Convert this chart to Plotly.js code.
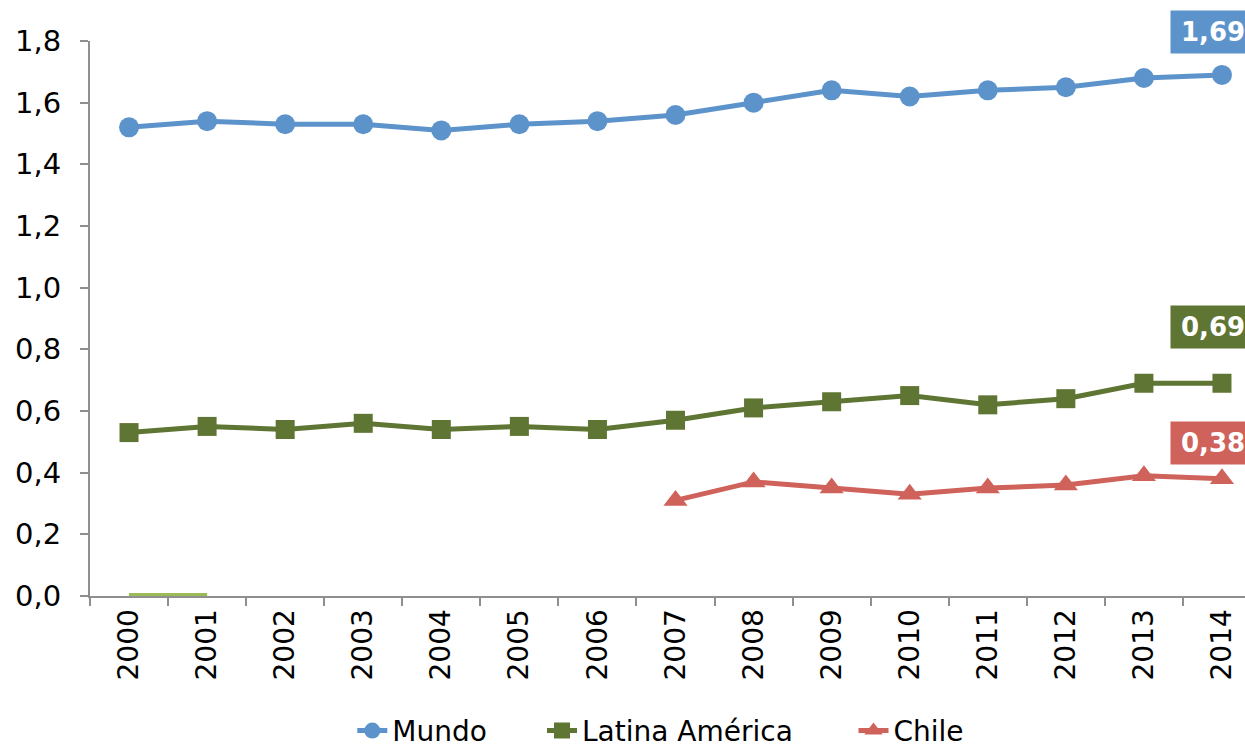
<!DOCTYPE html>
<html>
<head>
<meta charset="utf-8">
<script src="https://cdn.plot.ly/plotly-3.0.1.min.js"></script>
<style>
html,body{margin:0;padding:0;overflow:hidden;background:#fff;}
#chart{width:1271px;height:749px;}
</style>
</head>
<body>
<div id="chart"></div>
<script>
const years = ['2000','2001','2002','2003','2004','2005','2006','2007','2008','2009','2010','2011','2012','2013','2014'];
const mundo = [1.52,1.54,1.53,1.53,1.51,1.53,1.54,1.56,1.60,1.64,1.62,1.64,1.65,1.68,1.69];
const latina = [0.53,0.55,0.54,0.56,0.54,0.55,0.54,0.57,0.61,0.63,0.65,0.62,0.64,0.69,0.69];
const chileYears = ['2007','2008','2009','2010','2011','2012','2013','2014'];
const chile = [0.31,0.37,0.35,0.33,0.35,0.36,0.39,0.38];
const hiddenYears = ['2000','2001'];
const hidden = [0,0];
const yTicks = [0,0.2,0.4,0.6,0.8,1.0,1.2,1.4,1.6,1.8];

const cBlue = '#5D93CB', cGreen = '#5F7533', cRed = '#CF625A', cLight = '#9BBB59';
const font = 'DejaVu Sans, Verdana, sans-serif';

const traces = [
  {x: hiddenYears, y: hidden, name: 'Serie 4', mode: 'lines', line: {color: cLight, width: 6}, showlegend: false, cliponaxis: false},
  {x: years, y: mundo, name: 'Mundo', mode: 'lines+markers', line: {color: cBlue, width: 5}, marker: {symbol: 'circle', size: 20, color: cBlue}, cliponaxis: false, legend: 'legend'},
  {x: years, y: latina, name: 'Latina América', mode: 'lines+markers', line: {color: cGreen, width: 5}, marker: {symbol: 'square', size: 19, color: cGreen}, cliponaxis: false, legend: 'legend2'},
  {x: chileYears, y: chile, name: 'Chile', mode: 'lines+markers', line: {color: cRed, width: 5}, marker: {symbol: 'triangle-up', size: 21, color: cRed}, cliponaxis: false, legend: 'legend3'}
];

function lab(arrX, arrY, color, shift) {
  const i = arrY.length - 1;
  return {
    x: years.indexOf(arrX[i]), y: arrY[i], xref: 'x', yref: 'y',
    text: '<b>' + arrY[i].toFixed(2).replace('.', ',') + '</b>',
    showarrow: false, xanchor: 'left', yanchor: 'middle',
    xshift: -52, yshift: shift,
    bgcolor: color, borderpad: 6, width: 72, align: 'center',
    font: {family: font, size: 26, color: '#ffffff'}
  };
}

const legFont = {family: font, size: 28, color: '#000'};
function leg(x) {
  return {orientation: 'h', x: x, xanchor: 'left', y: -0.243, yanchor: 'middle', font: legFont, bgcolor: 'rgba(0,0,0,0)'};
}

const layout = {
  width: 1271, height: 749,
  margin: {l: 90, r: 10, t: 41, b: 153, autoexpand: false},
  paper_bgcolor: '#ffffff', plot_bgcolor: '#ffffff',
  separators: ',.',
  showlegend: true,
  hovermode: false,
  font: {family: font, size: 28, color: '#000000'},
  xaxis: {
    type: 'category', categoryorder: 'array', categoryarray: years,
    range: [-0.5, 14.5], layer: 'below traces',
    tickangle: -90, tickson: 'boundaries', ticks: 'outside', ticklen: 8, tickwidth: 2, tickcolor: '#8F8F8F',
    showline: true, linecolor: '#8F8F8F', linewidth: 2,
    showgrid: false, zeroline: false,
    tickfont: {family: font, size: 28, color: '#000'}
  },
  yaxis: {
    range: [0, 1.8], tickvals: yTicks, tickformat: '.1f', layer: 'below traces',
    ticks: 'outside', ticklen: 8, tickwidth: 2, tickcolor: '#8F8F8F',
    ticklabelstandoff: 13,
    showline: true, linecolor: '#8F8F8F', linewidth: 2,
    showgrid: false, zeroline: false,
    tickfont: {family: font, size: 29, color: '#000'}
  },
  legend: leg(0.224),
  legend2: leg(0.386),
  legend3: leg(0.652),
  annotations: [
    lab(years, mundo, cBlue, 43),
    lab(years, latina, cGreen, 56),
    lab(chileYears, chile, cRed, 36)
  ]
};

Plotly.newPlot('chart', traces, layout, {displayModeBar: false, staticPlot: true});
</script>
</body>
</html>
